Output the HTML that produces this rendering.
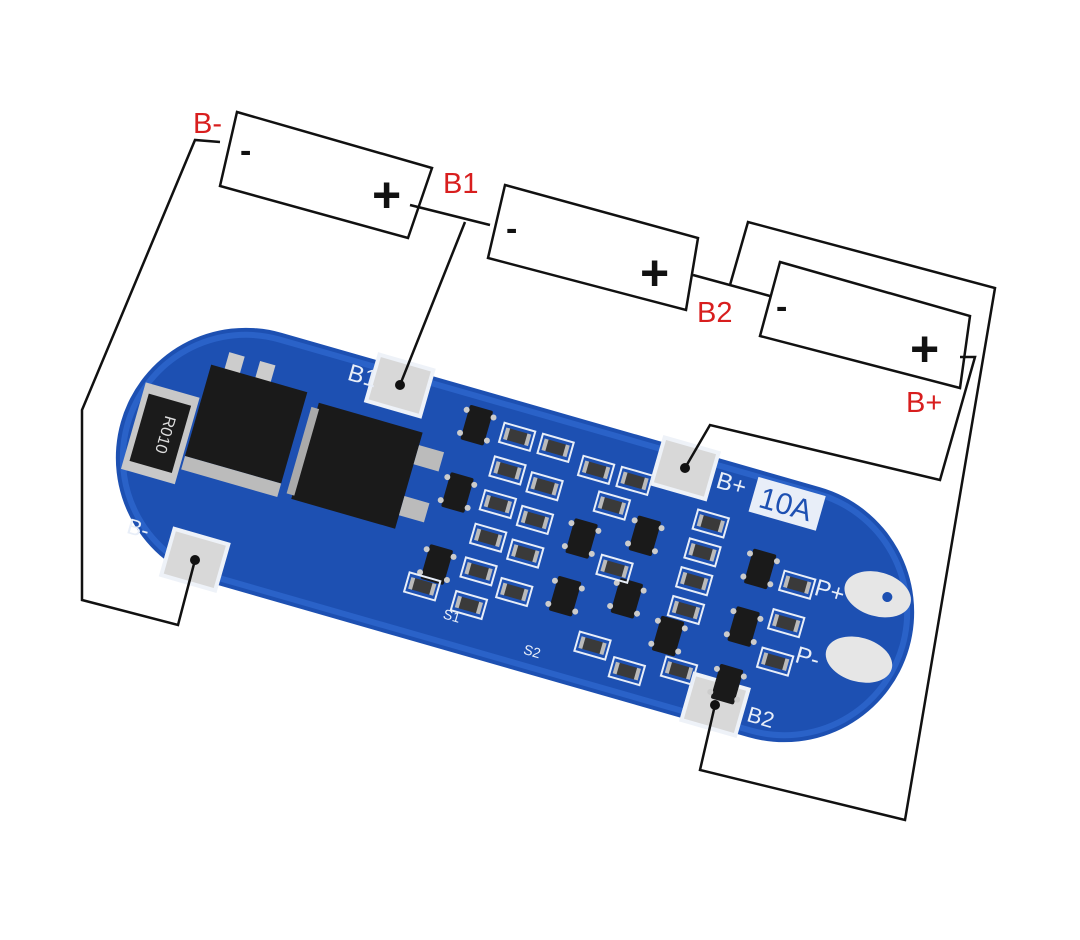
<!DOCTYPE html>
<html><head><meta charset="utf-8"><style>
html,body{margin:0;padding:0;background:#fff;}
svg{display:block;}
.w{fill:none;stroke:#111;stroke-width:2.5;stroke-linejoin:miter;}
.lbl{font-family:"Liberation Sans",sans-serif;font-size:29px;fill:#d81e1e;}
</style></head><body>
<svg width="1080" height="940" viewBox="0 0 1080 940" xmlns="http://www.w3.org/2000/svg">
<defs>
<g id="res"><rect x="-16" y="-10" width="32" height="20" fill="none" stroke="#e8eef8" stroke-width="2"/><rect x="-11" y="-6" width="22" height="12" fill="#3a3a3a"/><rect x="-13" y="-6" width="4" height="12" fill="#bbb"/><rect x="9" y="-6" width="4" height="12" fill="#bbb"/></g>
<g id="chip"><rect x="-12" y="-18" width="24" height="36" fill="#1a1a1a" rx="2"/><circle cx="-14" cy="-12" r="3" fill="#ccc"/><circle cx="14" cy="-12" r="3" fill="#ccc"/><circle cx="-14" cy="12" r="3" fill="#ccc"/><circle cx="14" cy="12" r="3" fill="#ccc"/></g>
<g id="pad"><rect x="-28" y="-24" width="56" height="48" fill="#d8d8d8" stroke="#eef2f8" stroke-width="4"/></g>
</defs>

<polygon class="w" points="237,112 432,168 408,238 220,186"/>
<polygon class="w" points="505,185 698,238 686,310 488,258"/>
<polygon class="w" points="780,262 970,316 960,388 760,336"/>
<text x="240" y="162" font-family="Liberation Sans,sans-serif" font-size="34" font-weight="bold" fill="#111">-</text>
<text x="372" y="212" font-family="Liberation Sans,sans-serif" font-size="50" font-weight="bold" fill="#111">+</text>
<text x="506" y="240" font-family="Liberation Sans,sans-serif" font-size="34" font-weight="bold" fill="#111">-</text>
<text x="640" y="290" font-family="Liberation Sans,sans-serif" font-size="50" font-weight="bold" fill="#111">+</text>
<text x="776" y="318" font-family="Liberation Sans,sans-serif" font-size="34" font-weight="bold" fill="#111">-</text>
<text x="910" y="366" font-family="Liberation Sans,sans-serif" font-size="50" font-weight="bold" fill="#111">+</text>

<g transform="rotate(16 515 535)">
<rect x="105" y="405" width="820" height="260" rx="130" fill="#1d50b2"/>
<rect x="112" y="412" width="806" height="246" rx="123" fill="none" stroke="#2a62c8" stroke-width="6"/>
<rect x="118" y="490" width="56" height="90" fill="#c8c8c8"/>
<rect x="124" y="500" width="44" height="70" fill="#1b1b1b"/>
<text x="146" y="535" transform="rotate(90 146 535)" text-anchor="middle" font-family="Liberation Sans,sans-serif" font-size="16" fill="#ddd">R010</text>
<rect x="190" y="438" width="16" height="22" fill="#ccc"/>
<rect x="222" y="438" width="16" height="22" fill="#ccc"/>
<rect x="176" y="455" width="100" height="95" fill="#1a1a1a"/>
<rect x="176" y="550" width="100" height="14" fill="#bbb"/>
<rect x="290" y="462" width="108" height="100" fill="#1a1a1a"/>
<rect x="284" y="468" width="8" height="90" fill="#aaa"/>
<rect x="398" y="475" width="26" height="20" fill="#bbb"/>
<rect x="398" y="528" width="26" height="20" fill="#bbb"/>
<use href="#pad" x="363" y="423"/>
<use href="#pad" x="660" y="424"/>
<use href="#pad" x="754" y="643"/>
<use href="#pad" x="214" y="647"/>
<ellipse cx="880" cy="492" rx="34" ry="22" fill="#e6e6e6"/>
<ellipse cx="880" cy="560" rx="34" ry="22" fill="#e6e6e6"/>
<circle cx="890" cy="492" r="5" fill="#1d50b2"/>
<text x="310" y="432" font-family="Liberation Sans,sans-serif" font-size="24" fill="#e8eef8">B1</text>
<text x="694" y="434" font-family="Liberation Sans,sans-serif" font-size="24" fill="#e8eef8">B+</text>
<rect x="733" y="412" width="70" height="36" fill="#e8eef8"/>
<text x="740" y="441" font-family="Liberation Sans,sans-serif" font-size="30" fill="#1d50b2">10A</text>
<text x="818" y="510" font-family="Liberation Sans,sans-serif" font-size="24" fill="#e8eef8">P+</text>
<text x="818" y="580" font-family="Liberation Sans,sans-serif" font-size="24" fill="#e8eef8">P-</text>
<text x="788" y="650" font-family="Liberation Sans,sans-serif" font-size="22" fill="#e8eef8">B2</text>
<text x="140" y="640" font-family="Liberation Sans,sans-serif" font-size="22" fill="#e8eef8">B-</text>
<text x="468" y="635" font-family="Liberation Sans,sans-serif" font-size="14" fill="#e8eef8">S1</text>
<text x="555" y="647" font-family="Liberation Sans,sans-serif" font-size="14" fill="#e8eef8">S2</text>
<use href="#chip" x="448" y="440"/>
<use href="#chip" x="448" y="510"/>
<use href="#chip" x="448" y="585"/>
<use href="#chip" x="580" y="520"/>
<use href="#chip" x="580" y="580"/>
<use href="#chip" x="640" y="500"/>
<use href="#chip" x="640" y="565"/>
<use href="#chip" x="690" y="590"/>
<use href="#chip" x="760" y="500"/>
<use href="#chip" x="760" y="560"/>
<use href="#chip" x="760" y="620"/>
<use href="#res" x="490" y="440"/><use href="#res" x="530" y="440"/><use href="#res" x="575" y="450"/><use href="#res" x="615" y="450"/>
<use href="#res" x="490" y="475"/><use href="#res" x="530" y="480"/><use href="#res" x="490" y="510"/><use href="#res" x="530" y="515"/>
<use href="#res" x="490" y="545"/><use href="#res" x="530" y="550"/><use href="#res" x="490" y="580"/><use href="#res" x="530" y="590"/>
<use href="#res" x="490" y="615"/><use href="#res" x="620" y="620"/><use href="#res" x="660" y="635"/>
<use href="#res" x="700" y="470"/><use href="#res" x="700" y="500"/><use href="#res" x="700" y="530"/><use href="#res" x="700" y="560"/>
<use href="#res" x="710" y="620"/><use href="#res" x="800" y="505"/><use href="#res" x="800" y="545"/><use href="#res" x="800" y="585"/>
<use href="#res" x="440" y="610"/><use href="#res" x="600" y="480"/><use href="#res" x="620" y="540"/>
</g>

<polyline class="w" points="220,142 195,140 82,410 82,600 178,625 195,560"/>
<polyline class="w" points="410,205 490,225"/>
<polyline class="w" points="465,222 400,385"/>
<polyline class="w" points="693,275 770,296"/>
<polyline class="w" points="730,285 748,222 995,288 905,820 700,770 715,705"/>
<polyline class="w" points="960,357 975,357 940,480 710,425 685,468"/>
<circle cx="400" cy="385" r="5" fill="#111"/>
<circle cx="685" cy="468" r="5" fill="#111"/>
<circle cx="715" cy="705" r="5" fill="#111"/>
<circle cx="195" cy="560" r="5" fill="#111"/>

<text class="lbl" x="193" y="133">B-</text>
<text class="lbl" x="443" y="193">B1</text>
<text class="lbl" x="697" y="322">B2</text>
<text class="lbl" x="906" y="412">B+</text>
</svg>
</body></html>
